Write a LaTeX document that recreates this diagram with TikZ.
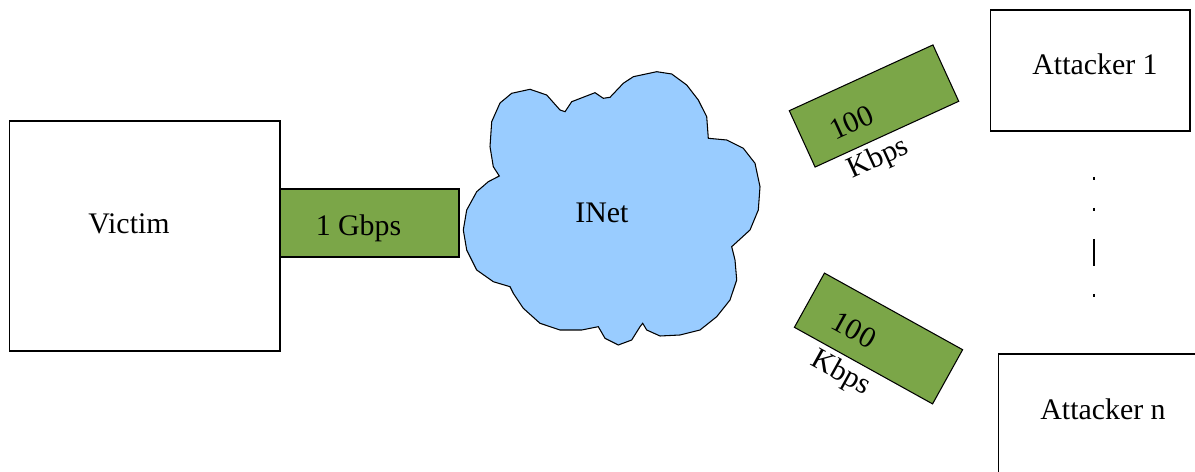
\documentclass[tikz,border=0pt]{standalone}
\usepackage{fontspec}
\setmainfont{Liberation Serif}
\definecolor{linkgreen}{RGB}{123,166,72}
\definecolor{cloudblue}{RGB}{153,204,255}

\begin{document}
\begin{tikzpicture}[x=0.02cm,y=-0.02cm,
                    every node/.style={font=\fontsize{17}{24}\selectfont},
                    hostbox/.style={draw,line width=0.6pt,inner sep=0pt},
                    linkbox/.style={draw,fill=linkgreen,line width=0.6pt,inner sep=0pt,
                                    minimum width=3.16cm,minimum height=1.24cm}]
  \useasboundingbox (0,0) rectangle (1195,472);
  % hosts: victim left, attackers right (attacker n runs off the page)
  \node[hostbox,minimum width=5.42cm,minimum height=4.6cm]  (victim) at (144.5,236) {};
  \node[hostbox,minimum width=4.0cm,minimum height=2.42cm]  (att1)   at (1090,70.5) {};
  \node[hostbox,minimum width=4.04cm,minimum height=2.52cm] (attn)   at (1099,417) {};
  \node (victimtxt) at (129,224) {Victim};
  \node (att1txt)   at (1095,64) {Attacker 1};
  \node (attntxt)   at (1103,409) {Attacker n};
  % the internet cloud
  \draw[fill=cloudblue,line width=0.6pt]
    (491.7,121.7) -- (500,103) -- (511.7,93.3) -- (530,89.3) -- (546.7,95) -- (560,110)
    -- (565,111.7) -- (571.7,101.7) -- (595,92.7) -- (603.3,98.3) -- (610,97.3)
    -- (623.3,83.3) -- (633.3,76.7) -- (656.7,71.7) -- (671.7,74) -- (686.7,85)
    -- (698.3,100) -- (706.7,116.7) -- (708.3,138.3) -- (726.7,140) -- (743.3,148.3)
    -- (755,163.3) -- (760,186.7) -- (758.3,210) -- (750,230) -- (731.7,246.7)
    -- (735,260) -- (736.7,280) -- (730,300) -- (716.7,316.7) -- (700,330)
    -- (680,335) -- (660,336) -- (646.7,330) -- (642.7,323.3) -- (640,326.7)
    -- (631.7,340) -- (618.3,345) -- (605,338.3) -- (598.3,326.7) -- (581.7,330)
    -- (560,330) -- (540,323.3) -- (523.3,308.3) -- (513.3,293.3) -- (510,286.7)
    -- (493.3,281.7) -- (476.7,270) -- (466.7,250) -- (463.3,230) -- (466.7,210)
    -- (476.7,191.7) -- (488.3,181.7) -- (499.3,176) -- (493.3,166.7) -- (490,146.7)
    -- cycle;
  \node (inet) at (602,213) {INet};
  % links
  \node[linkbox,minimum width=3.58cm,minimum height=1.36cm] (gbps) at (369.5,223) {};
  \node (gbpstxt) at (358.5,228) {1 Gbps};
  \node[linkbox,rotate=24.6] (uplink) at (874,106) {};
  \node[linkbox,rotate=-29]  (dnlink) at (878.5,338.5) {};
  \node[rotate=24.6,align=left] (uptxt) at (870,140.5) {100\\Kbps};
  \node[rotate=-29,align=left]  (dntxt) at (850.5,355.5) {100\\Kbps};
  % dots between the attackers
  \coordinate (dtop) at (1094,177);
  \coordinate (dbot) at (1094,298);
  \draw[line width=0.6pt,dash pattern=on 1.7pt off 15.9pt on 1.7pt off 15.9pt on 15.4pt off 15.9pt on 1.7pt off 20pt]
    (dtop) -- (dbot);
\end{tikzpicture}
\end{document}
